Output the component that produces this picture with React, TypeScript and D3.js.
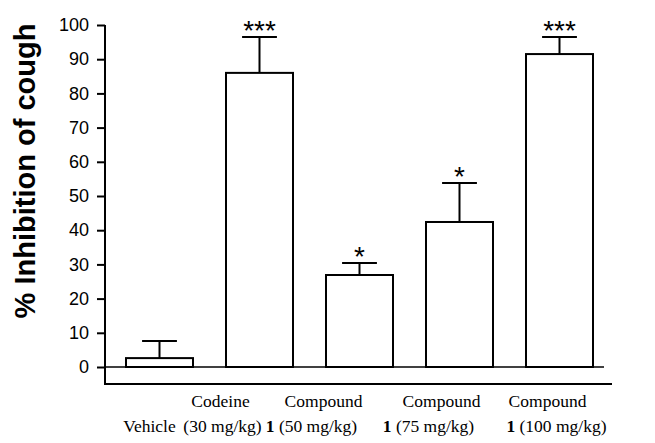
import React, { useEffect, useRef } from 'react';
import * as d3 from 'd3';

// values (% inhibition, mean and SEM)
const categories = ['vehicle', 'codeine30', 'cmpd50', 'cmpd75', 'cmpd100'];
const means = [2.6, 86, 26.9, 42.4, 91.5];
const errors = [5, 10.5, 3.5, 11.4, 5];
const stars = ['', '***', '*', '*', '***'];
const labelTop = ['', 'Codeine', 'Compound', 'Compound', 'Compound'];
const labelBold = ['', '', '1', '1', '1'];
const labelBottom = ['Vehicle', '(30 mg/kg)', ' (50 mg/kg)', ' (75 mg/kg)', ' (100 mg/kg)'];
const yTicks = [0, 10, 20, 30, 40, 50, 60, 70, 80, 90, 100];

// the category labels are packed along the row, not centred under the bars
const topShift = [0, -39, -36, -18, -12];
const bottomShift = [-10, -37, -48, -31, -3];

const App = () => {
  const ref = useRef<SVGSVGElement | null>(null);

  useEffect(() => {
    document.body.style.margin = '0';
    const svg = d3.select(ref.current);
    svg.selectAll('*').remove();

    const width = 655;
    const height = 443;
    const axisX = 105;
    const baseY = 384;
    const sans = '"Liberation Sans", Arial, sans-serif';
    const serif = '"Liberation Serif", "Times New Roman", serif';

    const y = d3.scaleLinear().domain([0, 100]).range([367, 25]);
    const x = d3.scaleBand<string>()
      .domain(categories)
      .range([106, 613])
      .paddingInner(0.33)
      .paddingOuter(0.2);

    svg.attr('width', width).attr('height', height).style('background', '#fff');

    // y axis with ticks
    const yAxis = d3.axisLeft(y).tickValues(yTicks).tickSize(8).tickPadding(8);
    const gy = svg.append('g').attr('transform', `translate(${axisX},0)`).call(yAxis);
    gy.select('.domain').remove();
    gy.selectAll('line').attr('stroke', '#000').attr('stroke-width', 2);
    gy.selectAll('text')
      .attr('font-family', sans)
      .attr('font-size', 18)
      .attr('fill', '#000');

    // axis frame: vertical line and base line
    svg.append('line')
      .attr('x1', axisX).attr('x2', axisX)
      .attr('y1', y(100)).attr('y2', baseY + 1)
      .attr('stroke', '#000').attr('stroke-width', 2);
    svg.append('line')
      .attr('x1', axisX).attr('x2', 612)
      .attr('y1', baseY).attr('y2', baseY)
      .attr('stroke', '#000').attr('stroke-width', 2);
    // zero line
    svg.append('line')
      .attr('x1', axisX).attr('x2', 604)
      .attr('y1', y(0)).attr('y2', y(0))
      .attr('stroke', '#000').attr('stroke-width', 1.5);

    // bars
    svg.append('g').selectAll('rect')
      .data(means)
      .enter().append('rect')
      .attr('x', (d, i) => x(categories[i]) as number)
      .attr('y', (d) => y(d))
      .attr('width', x.bandwidth())
      .attr('height', (d) => y(0) - y(d))
      .attr('fill', '#fff')
      .attr('stroke', '#000')
      .attr('stroke-width', 2);

    // error bars
    const capW = x.bandwidth() * 0.52;
    const err = svg.append('g').attr('stroke', '#000').attr('stroke-width', 2);
    means.forEach((m, i) => {
      const cx = (x(categories[i]) as number) + x.bandwidth() / 2;
      err.append('line')
        .attr('x1', cx).attr('x2', cx)
        .attr('y1', y(m)).attr('y2', y(m + errors[i]));
      err.append('line')
        .attr('x1', cx - capW / 2).attr('x2', cx + capW / 2)
        .attr('y1', y(m + errors[i])).attr('y2', y(m + errors[i]));
      if (stars[i]) {
        svg.append('text')
          .attr('x', cx)
          .attr('y', y(m + errors[i]) + 3)
          .attr('text-anchor', 'middle')
          .attr('font-family', sans)
          .attr('font-size', 28)
          .text(stars[i]);
      }
    });

    // category labels
    categories.forEach((c, i) => {
      const cx = (x(c) as number) + x.bandwidth() / 2;
      if (labelTop[i]) {
        svg.append('text')
          .attr('x', cx + topShift[i])
          .attr('y', 407)
          .attr('text-anchor', 'middle')
          .attr('font-family', serif)
          .attr('font-size', 17.5)
          .text(labelTop[i]);
      }
      const t = svg.append('text')
        .attr('x', cx + bottomShift[i])
        .attr('y', 432)
        .attr('text-anchor', 'middle')
        .attr('font-family', serif)
        .attr('font-size', 17.5)
        .style('white-space', 'pre');
      if (labelBold[i]) t.append('tspan').attr('font-weight', 'bold').text(labelBold[i]);
      t.append('tspan').text(labelBottom[i]);
    });

    // y axis title
    svg.append('text')
      .attr('transform', 'translate(25,171) rotate(-90)')
      .attr('text-anchor', 'middle')
      .attr('dominant-baseline', 'central')
      .attr('font-family', sans)
      .attr('font-weight', 'bold')
      .attr('font-size', 29)
      .text('% Inhibition of cough');
  }, []);

  return <svg ref={ref} />;
};

export default App;
